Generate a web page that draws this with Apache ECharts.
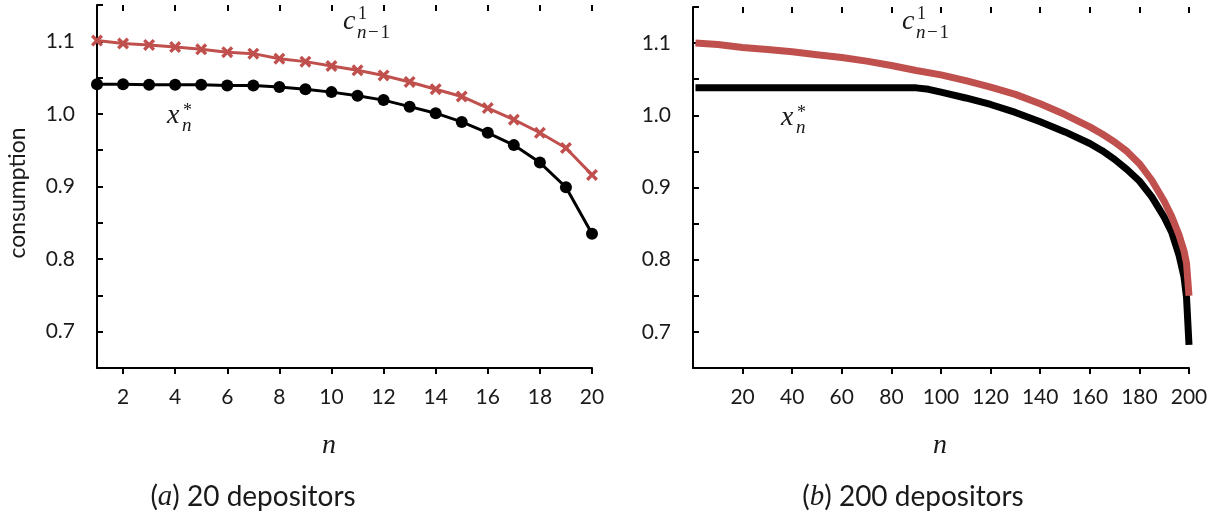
<!DOCTYPE html>
<html>
<head>
<meta charset="utf-8">
<script src="https://cdn.jsdelivr.net/npm/echarts@6/dist/echarts.min.js"></script>
<style>
html,body{margin:0;padding:0;background:#fff;}
#chart{width:1220px;height:521px;}
</style>
</head>
<body>
<div id="chart"></div>
<script>
// ---- Data: panel (a) 20 depositors ----
const nLeft = [1,2,3,4,5,6,7,8,9,10,11,12,13,14,15,16,17,18,19,20];
const cLeft = [1.101,1.097,1.095,1.092,1.089,1.085,1.083,1.076,1.072,1.066,1.060,1.053,1.044,1.034,1.024,1.008,0.992,0.974,0.953,0.916];
const xLeft = [1.041,1.041,1.040,1.040,1.040,1.039,1.039,1.037,1.034,1.030,1.025,1.019,1.010,1.001,0.989,0.974,0.957,0.933,0.899,0.835];
const xTicksLeft = [2,4,6,8,10,12,14,16,18,20];

// ---- Data: panel (b) 200 depositors ----
const nRightC = [1,10,20,30,40,50,60,70,80,90,100,110,120,130,140,150,160,165,170,175,180,185,190,193,196,198,199,200];
const cRight  = [1.100,1.098,1.094,1.091,1.088,1.084,1.080,1.075,1.069,1.062,1.056,1.048,1.039,1.029,1.016,1.001,0.984,0.974,0.963,0.950,0.933,0.910,0.881,0.860,0.834,0.812,0.795,0.750];
const nRightX = [1,30,60,90,95,100,110,120,130,140,150,160,165,170,175,180,185,190,193,196,198,199,200];
const xRight  = [1.038,1.038,1.038,1.038,1.036,1.032,1.024,1.015,1.004,0.991,0.977,0.961,0.951,0.939,0.925,0.909,0.887,0.859,0.838,0.806,0.776,0.748,0.682];
const xTicksRight = [20,40,60,80,100,120,140,160,180,200];

const yLabels = ['0.7','0.8','0.9','1.0','1.1'];

const RED = '#C0504D';
const FONT = 'Lato, "Noto Sans", sans-serif';
const MATH = '"Liberation Serif", "DejaVu Serif", serif';
const TXT = '#1a1a1a';

const pairs = (xs, ys) => xs.map((x, i) => [x, ys[i]]);
const crossPath = 'path://M0,2 L2,0 L5,3 L8,0 L10,2 L7,5 L10,8 L8,10 L5,7 L2,10 L0,8 L3,5 Z';

function yAxisDef(gi) {
  return {
    type: 'value', gridIndex: gi, min: 0.65, max: 1.15, interval: 0.05,
    axisLine: {show: true, lineStyle: {color: '#000', width: 2}},
    axisTick: {show: true, inside: true, length: 6, lineStyle: {color: '#000', width: 2}},
    splitLine: {show: false},
    axisLabel: {
      margin: 22, color: TXT, fontFamily: FONT, fontSize: 21,
      formatter: v => { const t = (Math.round(v*10)/10).toFixed(1);
        return (Math.abs(v*10 - Math.round(v*10)) < 1e-6 && yLabels.indexOf(t) >= 0) ? t : ''; }
    }
  };
}
function xAxisDef(gi, min, max, ticks, inside) {
  return {
    type: 'value', gridIndex: gi, min: min, max: max,
    axisLine: {show: !inside, onZero: false, lineStyle: {color: '#000', width: 2}},
    axisTick: {show: true, inside: inside, length: 6, customValues: ticks, lineStyle: {color: '#000', width: 2}},
    axisLabel: {show: !inside, margin: 19, color: TXT, fontFamily: FONT, fontSize: 21, customValues: ticks},
    splitLine: {show: false}
  };
}

const chart = echarts.init(document.getElementById('chart'), null, {renderer: 'canvas'});

function mathText(x, y, rich, text, align) {
  return {type: 'text', x: x, y: y, silent: true,
    style: {text: text, rich: rich, textAlign: align || 'left', textVerticalAlign: 'middle', fill: TXT}};
}
const richMath = {
  big: {fontFamily: MATH, fontStyle: 'italic', fontSize: 28, fill: TXT},
  sm: {fontFamily: MATH, fontStyle: 'italic', fontSize: 19, fill: TXT},
  smu: {fontFamily: MATH, fontSize: 19, fill: TXT},
  sup: {fontFamily: MATH, fontSize: 18, fill: TXT}
};
function cLabel(x0) {
  return [
    mathText(x0, 22, richMath, '{big|c}'),
    mathText(x0 + 15, 14, richMath, '{sup|1}'),
    mathText(x0 + 14, 33, richMath, '{sm|n}{smu|\u200a\u2212\u200a1}')
  ];
}
function xLabel(x0, y0) {
  return [
    mathText(x0, y0, richMath, '{big|x}'),
    mathText(x0 + 16, y0 - 5, richMath, '{sup|*}'),
    mathText(x0 + 15, y0 + 10, richMath, '{sm|n}')
  ];
}
function title(cx, letter, rest) {
  return {type: 'text', x: cx, y: 497, silent: true,
    style: {text: '{p|(}{i|' + letter + '}{p|) ' + rest + '}', textAlign: 'center', textVerticalAlign: 'middle',
      rich: {p: {fontFamily: FONT, fontSize: 28, fill: TXT}, i: {fontFamily: MATH, fontStyle: 'italic', fontSize: 29, fill: TXT}}}};
}

const option = {
  animation: false,
  backgroundColor: '#fff',
  grid: [
    {left: 97, top: 5, width: 495, height: 363},
    {left: 693, top: 7, width: 496, height: 361}
  ],
  xAxis: [
    xAxisDef(0, 1, 20, xTicksLeft, false),
    xAxisDef(0, 1, 20, xTicksLeft, true),
    xAxisDef(1, 0, 200, xTicksRight, false),
    xAxisDef(1, 0, 200, xTicksRight, true)
  ],
  yAxis: [yAxisDef(0), yAxisDef(1)],
  series: [
    {type: 'line', xAxisIndex: 0, yAxisIndex: 0, data: pairs(nLeft, cLeft),
     lineStyle: {color: RED, width: 3}, itemStyle: {color: RED},
     symbol: crossPath, symbolSize: 12, z: 3},
    {type: 'line', xAxisIndex: 0, yAxisIndex: 0, data: pairs(nLeft, xLeft),
     lineStyle: {color: '#000', width: 3}, itemStyle: {color: '#000'},
     symbol: 'circle', symbolSize: 12, z: 3},
    {type: 'line', xAxisIndex: 2, yAxisIndex: 1, data: pairs(nRightX, xRight),
     lineStyle: {color: '#000', width: 7}, showSymbol: false, symbol: 'none', z: 2},
    {type: 'line', xAxisIndex: 2, yAxisIndex: 1, data: pairs(nRightC, cRight),
     lineStyle: {color: RED, width: 7}, showSymbol: false, symbol: 'none', z: 3}
  ],
  graphic: [
    {type: 'text', x: 18, y: 193, rotation: Math.PI / 2, silent: true,
     style: {text: 'consumption', fontFamily: FONT, fontSize: 23, fill: TXT, textAlign: 'center', textVerticalAlign: 'middle'}},
    {type: 'text', x: 329, y: 446, silent: true,
     style: {text: 'n', fontFamily: MATH, fontStyle: 'italic', fontSize: 28, fill: TXT, textAlign: 'center', textVerticalAlign: 'middle'}},
    {type: 'text', x: 940, y: 446, silent: true,
     style: {text: 'n', fontFamily: MATH, fontStyle: 'italic', fontSize: 28, fill: TXT, textAlign: 'center', textVerticalAlign: 'middle'}},
    title(253, 'a', '20 depositors'),
    title(913, 'b', '200 depositors'),
    ...cLabel(343),
    ...cLabel(902),
    ...xLabel(167, 116),
    ...xLabel(781, 118)
  ]
};
chart.setOption(option);
</script>
</body>
</html>
